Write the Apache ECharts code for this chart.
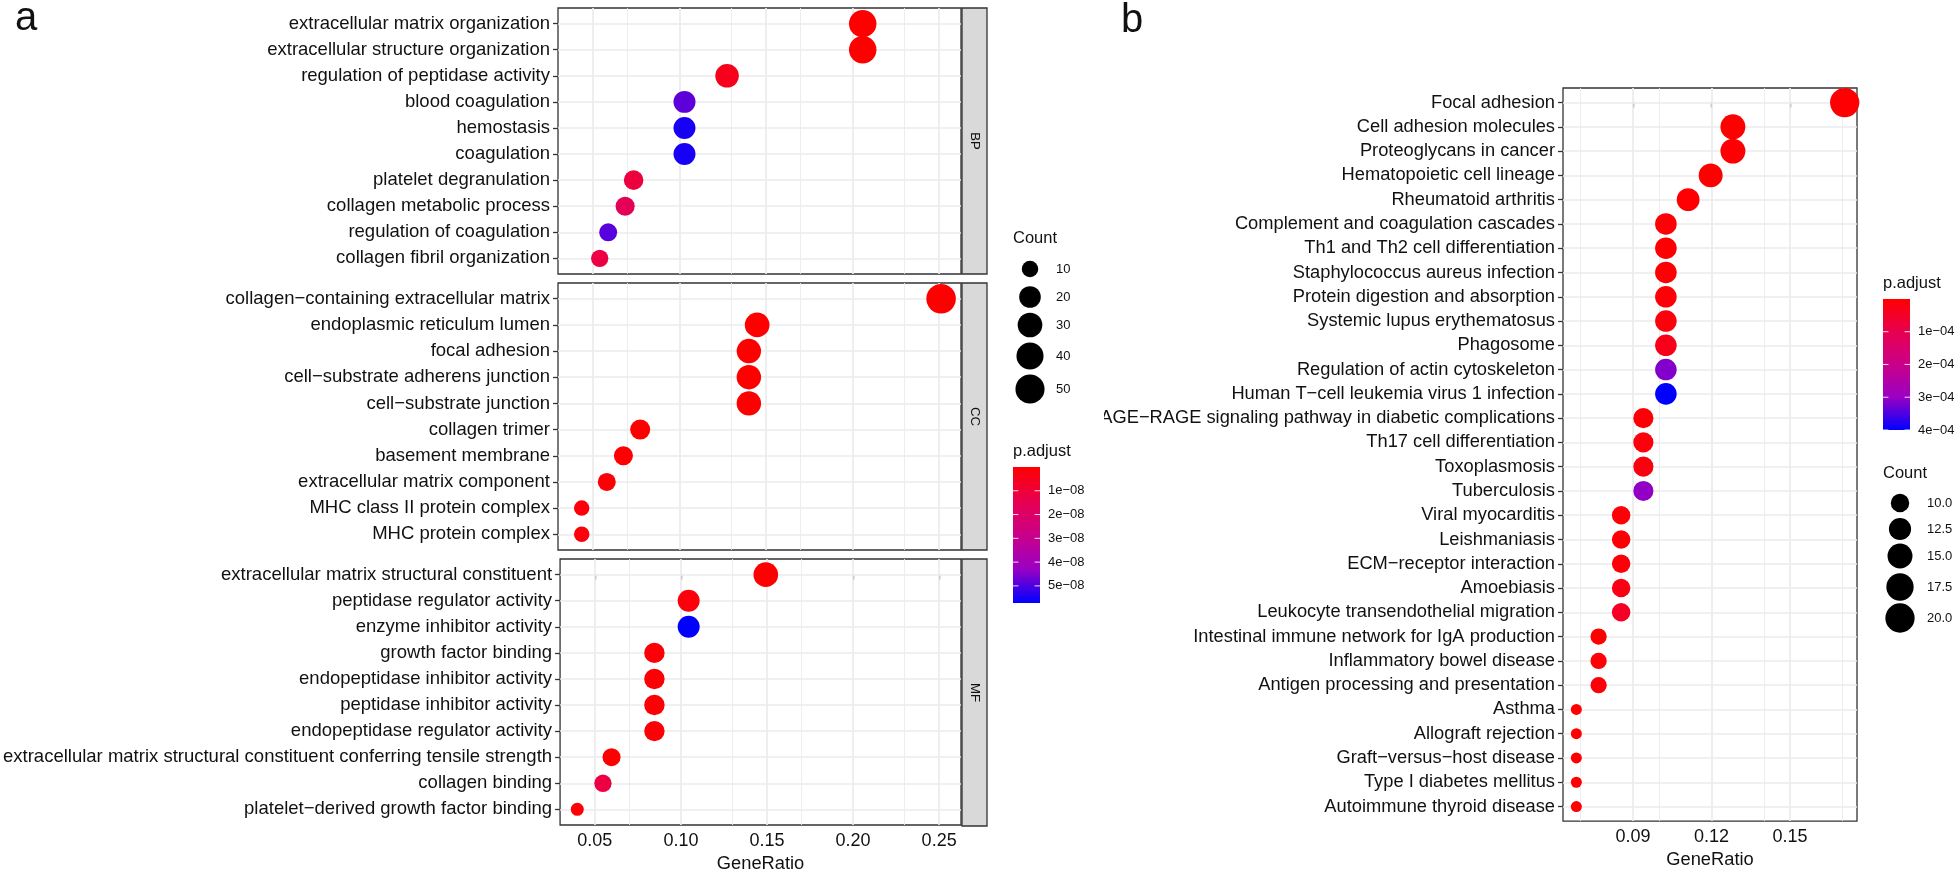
<!DOCTYPE html>
<html><head><meta charset="utf-8">
<script src="https://cdn.jsdelivr.net/npm/echarts@6/dist/echarts.min.js"></script>
<style>html,body{margin:0;padding:0;background:#fff}#c{width:1958px;height:874px}</style>
</head><body><div id="c"></div>
<script>
// ---------------- DATA ----------------
const facetNames = ['BP', 'CC', 'MF'];

const bpTerms = ['extracellular matrix organization','extracellular structure organization','regulation of peptidase activity','blood coagulation','hemostasis','coagulation','platelet degranulation','collagen metabolic process','regulation of coagulation','collagen fibril organization'];
const bpRatio = [0.2059,0.2059,0.1275,0.1029,0.1029,0.1029,0.0735,0.0686,0.0588,0.0539];
const bpCount = [42,42,26,21,21,21,15,14,12,11];
const bpPadj  = [2e-12,2e-12,5e-9,4.85e-8,5.5e-8,5.5e-8,1.1e-8,1.6e-8,4.9e-8,1.2e-8];

const ccTerms = ['collagen−containing extracellular matrix','endoplasmic reticulum lumen','focal adhesion','cell−substrate adherens junction','cell−substrate junction','collagen trimer','basement membrane','extracellular matrix component','MHC class II protein complex','MHC protein complex'];
const ccRatio = [0.2512,0.1449,0.1401,0.1401,0.1401,0.0773,0.0676,0.0580,0.0435,0.0435];
const ccCount = [52,30,29,29,29,16,14,12,9,9];
const ccPadj  = [1e-20,1e-12,2e-12,2e-12,2e-12,1e-10,5e-10,1e-9,2e-9,2e-9];

const mfTerms = ['extracellular matrix structural constituent','peptidase regulator activity','enzyme inhibitor activity','growth factor binding','endopeptidase inhibitor activity','peptidase inhibitor activity','endopeptidase regulator activity','extracellular matrix structural constituent conferring tensile strength','collagen binding','platelet−derived growth factor binding'];
const mfRatio = [0.1493,0.1045,0.1045,0.0846,0.0846,0.0846,0.0846,0.0597,0.0547,0.0398];
const mfCount = [30,21,21,17,17,17,17,12,11,8];
const mfPadj  = [1e-14,2e-9,5.72e-8,1e-9,1e-9,1e-9,1e-9,1e-10,1.2e-8,5e-10];

const keggTerms = ['Focal adhesion','Cell adhesion molecules','Proteoglycans in cancer','Hematopoietic cell lineage','Rheumatoid arthritis','Complement and coagulation cascades','Th1 and Th2 cell differentiation','Staphylococcus aureus infection','Protein digestion and absorption','Systemic lupus erythematosus','Phagosome','Regulation of actin cytoskeleton','Human T−cell leukemia virus 1 infection','AGE−RAGE signaling pathway in diabetic complications','Th17 cell differentiation','Toxoplasmosis','Tuberculosis','Viral myocarditis','Leishmaniasis','ECM−receptor interaction','Amoebiasis','Leukocyte transendothelial migration','Intestinal immune network for IgA production','Inflammatory bowel disease','Antigen processing and presentation','Asthma','Allograft rejection','Graft−versus−host disease','Type I diabetes mellitus','Autoimmune thyroid disease'];
const keggRatio = [0.1709,0.1282,0.1282,0.1197,0.1111,0.1026,0.1026,0.1026,0.1026,0.1026,0.1026,0.1026,0.1026,0.0940,0.0940,0.0940,0.0940,0.0855,0.0855,0.0855,0.0855,0.0855,0.0769,0.0769,0.0769,0.0684,0.0684,0.0684,0.0684,0.0684];
const keggCount = [20,15,15,14,13,12,12,12,12,12,12,12,12,11,11,11,11,10,10,10,10,10,9,9,9,8,8,8,8,8];
const keggPadj  = [3e-6,1.2e-6,4e-6,1.5e-6,5e-6,6e-6,5.5e-6,4.5e-6,1e-5,1.5e-5,3.2e-5,3.15e-4,4e-4,8e-6,1.4e-5,1.8e-5,3.05e-4,6e-6,7e-6,9e-6,2.5e-5,4.5e-5,2e-6,6.5e-6,1e-5,2e-7,1e-6,1.5e-6,2.5e-6,3.5e-6];

const xTicksA = [0.05,0.10,0.15,0.20,0.25];
const xMinorA = [0.075,0.125,0.175,0.225];
const xTicksB = [0.09,0.12,0.15];
const xMinorB = [0.075,0.105,0.135,0.165];
const countBreaksA = [10,20,30,40,50];
const countBreaksB = [10.0,12.5,15.0,17.5,20.0];
const padjBreaksA = [1e-8,2e-8,3e-8,4e-8,5e-8];
const padjBreaksB = [1e-4,2e-4,3e-4,4e-4];

// ---------------- STYLE / LAYOUT ----------------
const FONT = '"Liberation Sans", Arial, Helvetica, sans-serif';
const TXT = '#111';
const padjColors = ['#FF0000','#E80050','#CA0089','#9A00C3','#0000FF'];
const GRIDC = '#EBEBEB';
const LAY = {
  aLeft: 558, aWidth: 403,
  aPanels: [[8, 266], [283, 267], [559, 267]],
  stripX: 962, stripW: 25,
  xRangeA: [0.0298, 0.2627],
  bLeft: 1563, bTop: 88, bWidth: 294, bHeight: 736,
  xRangeB: [0.0633, 0.1756],
  legA: {x: 1013, countTitleY: 238, circX: 1030, labX: 1056, circY: [269, 297, 325, 356, 389],
         padjTitleY: 451, barTop: 467, barH: 136, barW: 27, barLabX: 1048},
  legB: {x: 1883, padjTitleY: 283, barTop: 299, barH: 131, barW: 27, barLabX: 1918,
         countTitleY: 473, circX: 1900, labX: 1927, circY: [503, 529, 556, 587, 618]}
};

function sizeScale(counts, dmin, dmax) {
  const lo = Math.min(...counts), hi = Math.max(...counts);
  return c => dmin + Math.sqrt(Math.max(0, (c - lo) / (hi - lo))) * (dmax - dmin);
}
const allCountA = bpCount.concat(ccCount, mfCount);
const allPadjA = bpPadj.concat(ccPadj, mfPadj);
const sizeA = sizeScale(allCountA, 13, 29.5);
const sizeB = sizeScale(keggCount, 11, 29.3);
const pMinA = Math.min(...allPadjA), pMaxA = Math.max(...allPadjA);
const pMinB = Math.min(...keggPadj), pMaxB = Math.max(...keggPadj);

function fmtE(v) {
  const s = v.toExponential(0).split('e');
  const e = parseInt(s[1], 10);
  return s[0] + 'e' + (e < 0 ? '−' : '+') + String(Math.abs(e)).padStart(2, '0');
}

const facets = [
  {terms: bpTerms, ratio: bpRatio, count: bpCount, padj: bpPadj},
  {terms: ccTerms, ratio: ccRatio, count: ccCount, padj: ccPadj},
  {terms: mfTerms, ratio: mfRatio, count: mfCount, padj: mfPadj}
];

function gridLines(terms, major, minor) {
  return [].concat(
    minor.map(v => ({xAxis: v, lineStyle: {width: 0.9}})),
    major.map(v => ({xAxis: v, lineStyle: {width: 1.7}})),
    terms.map((t, j) => ({yAxis: j, lineStyle: {width: 1.7}}))
  );
}

const grids = [], xAxes = [], yAxes = [], series = [];
facets.forEach((f, i) => {
  const p = LAY.aPanels[i];
  grids.push({left: LAY.aLeft, top: p[0], width: LAY.aWidth, height: p[1], show: true,
    borderColor: '#333', borderWidth: 1.3, backgroundColor: '#fff'});
  const last = i === facets.length - 1;
  xAxes.push({gridIndex: i, type: 'value', min: LAY.xRangeA[0], max: LAY.xRangeA[1],
    axisLine: {show: false}, splitLine: {show: false},
    axisTick: {show: last, customValues: xTicksA, length: 5, lineStyle: {color: '#333', width: 1.3}},
    axisLabel: {show: last, customValues: xTicksA, formatter: v => v.toFixed(2), fontSize: 18, color: TXT, fontFamily: FONT, margin: 7},
    name: last ? 'GeneRatio' : '', nameLocation: 'middle', nameGap: 30,
    nameTextStyle: {fontSize: 18.3, color: TXT, fontFamily: FONT}});
  const idx = f.terms.map((t, j) => j);
  yAxes.push({gridIndex: i, type: 'value', inverse: true, min: -0.6, max: f.terms.length - 0.4,
    axisLine: {show: false}, splitLine: {show: false},
    axisTick: {customValues: idx, length: 5, lineStyle: {color: '#333', width: 1.3}},
    axisLabel: {customValues: idx, formatter: v => f.terms[Math.round(v)], fontSize: 18.5, color: TXT, fontFamily: FONT, margin: 8}});
  series.push({type: 'scatter', xAxisIndex: i, yAxisIndex: i, silent: true, animation: false,
    data: f.terms.map((t, j) => [f.ratio[j], j, f.padj[j], f.count[j], t]),
    symbolSize: v => sizeA(v[3]), itemStyle: {opacity: 1},
    markLine: {silent: true, animation: false, symbol: 'none', z: 1, label: {show: false},
      lineStyle: {color: GRIDC, type: 'solid'}, emphasis: {disabled: true},
      data: gridLines(f.terms, xTicksA, xMinorA)}});
});

// panel b
grids.push({left: LAY.bLeft, top: LAY.bTop, width: LAY.bWidth, height: LAY.bHeight, show: true,
  borderColor: '#333', borderWidth: 1.3, backgroundColor: '#fff'});
xAxes.push({gridIndex: 3, type: 'value', min: LAY.xRangeB[0], max: LAY.xRangeB[1],
  axisLine: {show: false}, splitLine: {show: false},
  axisTick: {customValues: xTicksB, length: 5, lineStyle: {color: '#333', width: 1.3}},
  axisLabel: {customValues: xTicksB, formatter: v => v.toFixed(2), fontSize: 18, color: TXT, fontFamily: FONT, margin: 7},
  name: 'GeneRatio', nameLocation: 'middle', nameGap: 27,
  nameTextStyle: {fontSize: 18.3, color: TXT, fontFamily: FONT}});
const kIdx = keggTerms.map((t, j) => j);
yAxes.push({gridIndex: 3, type: 'value', inverse: true, min: -0.6, max: keggTerms.length - 0.4,
  axisLine: {show: false}, splitLine: {show: false},
  axisTick: {customValues: kIdx, length: 5, lineStyle: {color: '#333', width: 1.3}},
  axisLabel: {customValues: kIdx, formatter: v => keggTerms[Math.round(v)], fontSize: 18.3, color: TXT, fontFamily: FONT, margin: 8}});
series.push({type: 'scatter', xAxisIndex: 3, yAxisIndex: 3, silent: true, animation: false,
  data: keggTerms.map((t, j) => [keggRatio[j], j, keggPadj[j], keggCount[j], t]),
  symbolSize: v => sizeB(v[3]), itemStyle: {opacity: 1},
  markLine: {silent: true, animation: false, symbol: 'none', z: 1, label: {show: false},
    lineStyle: {color: GRIDC, type: 'solid'}, emphasis: {disabled: true},
    data: gridLines(keggTerms, xTicksB, xMinorB)}});

// ---------------- GRAPHIC (strips, legends, letters) ----------------
const graphic = [];
function txt(x, y, s, size, align, extra) {
  return Object.assign({type: 'text', x: x, y: y, silent: true, z: 100,
    style: {text: s, fontSize: size, fontFamily: FONT, fill: TXT, align: align || 'left', verticalAlign: 'middle'}}, extra || {});
}
facetNames.forEach((n, i) => {
  const p = LAY.aPanels[i];
  graphic.push({type: 'rect', silent: true, z: 100, shape: {x: LAY.stripX, y: p[0], width: LAY.stripW, height: p[1]},
    style: {fill: '#D9D9D9', stroke: '#333', lineWidth: 1.3}});
  graphic.push(txt(LAY.stripX + LAY.stripW / 2, p[0] + p[1] / 2, n, 13.2, 'center', {rotation: -Math.PI / 2}));
});
graphic.push(txt(15, 19, 'a', 40, 'left'));
graphic.push(txt(1121, 21, 'b', 40, 'left'));
// clip of the long KEGG label where the original image was cut
graphic.push({type: 'rect', silent: true, z: 90, shape: {x: 1070, y: 409, width: 34, height: 23}, style: {fill: '#fff'}});

function gradient() {
  return new echarts.graphic.LinearGradient(0, 0, 0, 1,
    padjColors.map((c, k) => ({offset: k / (padjColors.length - 1), color: c})));
}
function colorbar(L, pmin, pmax, breaks) {
  graphic.push(txt(L.x, L.padjTitleY, 'p.adjust', 16.5, 'left'));
  graphic.push({type: 'rect', silent: true, z: 100, shape: {x: L.x, y: L.barTop, width: L.barW, height: L.barH}, style: {fill: gradient()}});
  breaks.forEach(b => {
    const y = L.barTop + (b - pmin) / (pmax - pmin) * L.barH;
    const tl = L.barW / 5;
    graphic.push({type: 'line', silent: true, z: 101, shape: {x1: L.x, y1: y, x2: L.x + tl, y2: y}, style: {stroke: 'rgba(255,255,255,0.85)', lineWidth: 1}});
    graphic.push({type: 'line', silent: true, z: 101, shape: {x1: L.x + L.barW - tl, y1: y, x2: L.x + L.barW, y2: y}, style: {stroke: 'rgba(255,255,255,0.85)', lineWidth: 1}});
    graphic.push(txt(L.barLabX, y, fmtE(b), 13, 'left'));
  });
}
function countLegend(L, breaks, sizeFn, dec) {
  graphic.push(txt(L.x, L.countTitleY, 'Count', 16.5, 'left'));
  breaks.forEach((b, k) => {
    graphic.push({type: 'circle', silent: true, z: 100, shape: {cx: L.circX, cy: L.circY[k], r: sizeFn(b) / 2}, style: {fill: '#000'}});
    graphic.push(txt(L.labX, L.circY[k], b.toFixed(dec), 13, 'left'));
  });
}
countLegend(LAY.legA, countBreaksA, sizeA, 0);
colorbar(LAY.legA, pMinA, pMaxA, padjBreaksA);
colorbar(LAY.legB, pMinB, pMaxB, padjBreaksB);
countLegend(LAY.legB, countBreaksB, sizeB, 1);

const chart = echarts.init(document.getElementById('c'), null, {renderer: 'canvas'});
chart.setOption({
  animation: false,
  backgroundColor: '#fff',
  textStyle: {fontFamily: FONT},
  grid: grids, xAxis: xAxes, yAxis: yAxes, series: series,
  visualMap: [
    {type: 'continuous', show: false, dimension: 2, seriesIndex: [0, 1, 2], min: pMinA, max: pMaxA, inRange: {color: padjColors}},
    {type: 'continuous', show: false, dimension: 2, seriesIndex: [3], min: pMinB, max: pMaxB, inRange: {color: padjColors}}
  ],
  graphic: graphic
});
</script></body></html>
